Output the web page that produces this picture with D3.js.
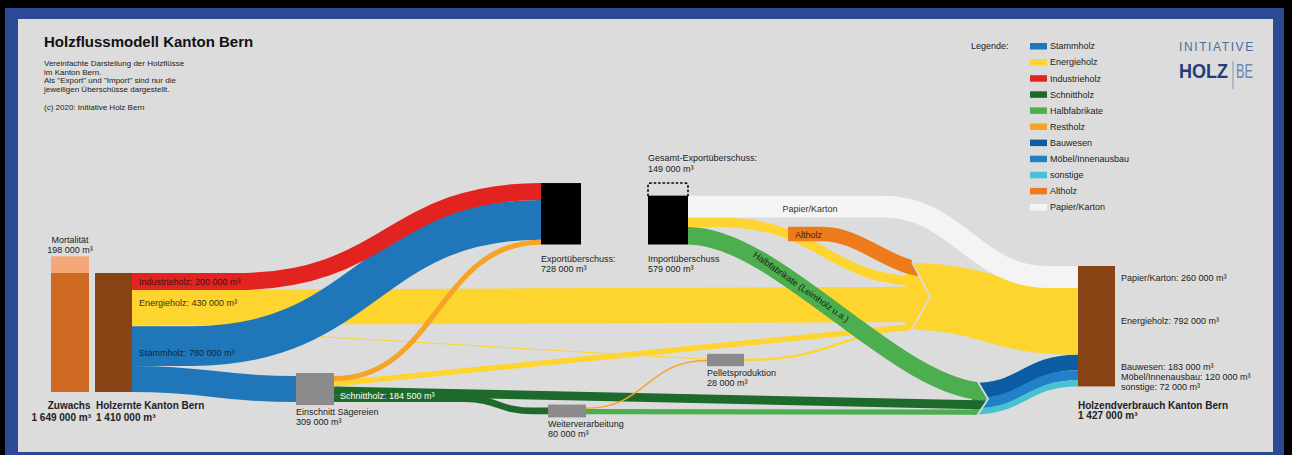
<!DOCTYPE html>
<html>
<head>
<meta charset="utf-8">
<script src="https://cdn.jsdelivr.net/npm/d3@7"></script>
<style>
	html, body { margin: 0; padding: 0; background: #000; }
	svg { display: block; font-family: "Liberation Sans", Arial, sans-serif; }
</style>
</head>
<body>
<div id="chart"></div>
<script>
// texts
var titleText = 'Holzflussmodell Kanton Bern';
var introLines = ['Vereinfachte Darstellung der Holzflüsse', 'im Kanton Bern.', 'Als "Export" und "Import" sind nur die', 'jeweiligen Überschüsse dargestellt.'];
var creditText = '(c) 2020: Initiative Holz Bern';

var legendLabels = ['Stammholz', 'Energieholz', 'Industrieholz', 'Schnittholz', 'Halbfabrikate', 'Restholz', 'Bauwesen', 'Möbel/Innenausbau', 'sonstige', 'Altholz', 'Papier/Karton'];
var legendKeys = ['stammholz', 'energieholz', 'industrieholz', 'schnittholz', 'halbfabrikate', 'restholz', 'bauwesen', 'moebel', 'sonstige', 'altholz', 'papier'];

// nodes (m3)
var nodeIds = ['zuwachs', 'holzernte', 'export', 'gesamtExport', 'import', 'saegerei', 'weiterverarbeitung', 'pellets', 'altholz', 'mixEnergie', 'mixBau', 'endverbrauch'];
var nodeNames = ['Zuwachs', 'Holzernte Kanton Bern', 'Exportüberschuss:', 'Gesamt-Exportüberschuss:', 'Importüberschuss', 'Einschnitt Sägereien', 'Weiterverarbeitung', 'Pelletsproduktion', 'Altholz', '', '', 'Holzendverbrauch Kanton Bern'];
var nodeValues = [1649000, 1410000, 728000, 149000, 579000, 309000, 80000, 28000, 170500, 792000, 375000, 1427000];

// Zuwachs column: genutzt / Mortalität
var zuwachsParts = [1410000, 198000];
var zuwachsPartNames = ['', 'Mortalität'];

// flows (m3)
var flowFrom = ['holzernte', 'holzernte', 'holzernte', 'holzernte', 'holzernte', 'saegerei', 'saegerei', 'saegerei', 'saegerei', 'weiterverarbeitung', 'weiterverarbeitung', 'pellets', 'import', 'import', 'import', 'altholz', 'mixEnergie', 'mixBau', 'mixBau', 'mixBau'];
var flowTo = ['export', 'mixEnergie', 'pellets', 'export', 'saegerei', 'export', 'mixEnergie', 'mixBau', 'weiterverarbeitung', 'pellets', 'mixBau', 'mixEnergie', 'endverbrauch', 'mixEnergie', 'mixBau', 'mixEnergie', 'endverbrauch', 'endverbrauch', 'endverbrauch', 'endverbrauch'];
var flowValue = [200000, 418000, 12000, 471000, 309000, 60000, 64500, 104500, 80000, 16000, 64000, 28000, 260000, 111000, 208500, 170500, 792000, 183000, 120000, 72000];
var flowKind = ['industrieholz', 'energieholz', 'energieholz', 'stammholz', 'stammholz', 'restholz', 'energieholz', 'schnittholz', 'schnittholz', 'restholz', 'halbfabrikate', 'energieholz', 'papier', 'energieholz', 'halbfabrikate', 'altholz', 'energieholz', 'bauwesen', 'moebel', 'sonstige'];

// labels at the end of the chain
var endNames = ['Papier/Karton', 'Energieholz', 'Bauwesen', 'Möbel/Innenausbau', 'sonstige'];
var endFlows = [12, 16, 17, 18, 19];

// labels written on the bands
var bandNames = ['Industrieholz', 'Energieholz', 'Stammholz', 'Schnittholz'];
var bandValues = [200000, 430000, 780000, 184500];

// styles
var colors = {
	stammholz: '#1f77b9',
	energieholz: '#fed42e',
	industrieholz: '#e3231f',
	schnittholz: '#1d6a2b',
	halbfabrikate: '#4cae4f',
	restholz: '#f6a327',
	bauwesen: '#0c5ca3',
	moebel: '#2180c8',
	sonstige: '#4ac0d3',
	altholz: '#ee7b1b',
	papier: '#f4f4f4'
};
var bg = '#dcdcdc';
var textColor = '#222';

// layout (px)
var layout = {
	zuwachs: { x: 51, w: 38, bottom: 392 },
	holzernte: { x: 95, w: 37, top: 273, fill: '#874314' },
	export: { x: 541, w: 40, bottom: 244.5, fill: '#000' },
	import: { x: 648, w: 40, bottom: 244.5, fill: '#000' },
	gesamtExport: { x: 648, w: 40 },
	saegerei: { x: 296, w: 38, top: 376, pad: 3, fill: '#8b8b8b' },
	weiterverarbeitung: { x: 548, w: 38, top: 407.6, pad: 3, fill: '#8b8b8b' },
	pellets: { x: 707, w: 37, top: 358.8, pad: 5, fill: '#8b8b8b' },
	altholz: { x: 788, w: 0, top: 226.8 },
	mixEnergie: { x: 912, w: 0, top: 263, tip: 18, inOrder: [15, 13, 1, 6, 11] },
	mixBau: { x: 978, w: 0, top: 383, tip: 10, inOrder: [14, 7, 10] },
	endverbrauch: { x: 1078, w: 37, top: 266, fill: '#874314' }
};

var routes = [
	{ hold0: 105 }, {}, { tension: 0 }, { hold0: 60 }, {},
	{}, { tension: 0 }, { tension: 0 }, { hold0: 130, hold1: 15 },
	{}, { tension: 0 }, {},
	{ hold0: 195, hold1: 30, tension: 0.45 }, { hold0: 30 }, { tension: 0.3 },
	{ hold0: 35, tension: 0.35 }, {}, {}, {}, {}
];

var drawOrder = [16, 17, 18, 19, 2, 1, 6, 11, 13, 15, 4, 3, 0, 7, 8, 10, 9, 5, 12, 14];

initFlowChart();

function initFlowChart() {
	var W = 1292, H = 455;
	var locale = d3.formatLocale({ decimal: '.', thousands: ' ', grouping: [3], currency: ['', ''] });
	var fmt = function(v) { return locale.format(',')(v) + ' m³'; };
	var widthScale = d3.scaleLinear().domain([0, 1410000]).range([0, 119]);

	var svg = d3.select('#chart')
		.append('svg')
		.attr('width', W)
		.attr('height', H);

	// frame
	svg.append('rect').attr('width', W).attr('height', H).attr('fill', '#000');
	svg.append('rect').attr('x', 5).attr('y', 8).attr('width', 1279).attr('height', H).attr('fill', '#2c4a94');
	svg.append('rect').attr('x', 18).attr('y', 19).attr('width', 1255).attr('height', 433).attr('fill', bg);

	// title block
	svg.append('text')
		.attr('x', 44).attr('y', 47)
		.style('font-size', '15px').style('font-weight', 'bold')
		.attr('fill', '#111')
		.text(titleText);

	svg.append('g').selectAll('text')
		.data(introLines)
		.enter()
		.append('text')
		.attr('x', 44)
		.attr('y', function(d, i) { return 66 + i * 8.5; })
		.style('font-size', '8px')
		.attr('fill', textColor)
		.text(function(d) { return d; });

	svg.append('text')
		.attr('x', 44).attr('y', 110)
		.style('font-size', '8px')
		.attr('fill', textColor)
		.text(creditText);

	// legend
	var legendY = d3.scalePoint().domain(legendLabels).range([46, 207]);
	var legend = svg.append('g').attr('class', 'legend');

	legend.append('text')
		.attr('x', 971).attr('y', 48.5)
		.style('font-size', '9px')
		.attr('fill', textColor)
		.text('Legende:');

	var row = legend.selectAll('.row')
		.data(legendLabels)
		.enter()
		.append('g')
		.attr('class', 'row')
		.attr('transform', function(d) { return 'translate(1030,' + legendY(d) + ')'; });

	row.append('rect')
		.attr('x', 0).attr('y', -3)
		.attr('width', 17).attr('height', 6.5)
		.attr('fill', function(d, i) { return colors[legendKeys[i]]; });

	row.append('text')
		.attr('x', 20).attr('y', 3.3)
		.style('font-size', '9px')
		.attr('fill', textColor)
		.text(function(d) { return d; });

	// logo
	var logo = svg.append('g').attr('class', 'logo');
	logo.append('text')
		.attr('x', 1179).attr('y', 51)
		.style('font-size', '12px').style('letter-spacing', '1.6px')
		.attr('fill', '#4d6c9e')
		.text('INITIATIVE');
	logo.append('text')
		.attr('x', 1179).attr('y', 77.5)
		.attr('textLength', 49).attr('lengthAdjust', 'spacingAndGlyphs')
		.style('font-size', '21px').style('font-weight', 'bold')
		.attr('fill', '#1e3d7b')
		.text('HOLZ');
	logo.append('line')
		.attr('x1', 1233).attr('x2', 1233).attr('y1', 61).attr('y2', 89)
		.attr('stroke', '#7f97bd').attr('stroke-width', 1);
	logo.append('text')
		.attr('x', 1236).attr('y', 77.5)
		.attr('textLength', 17).attr('lengthAdjust', 'spacingAndGlyphs')
		.style('font-size', '20px')
		.attr('fill', '#6b86b2')
		.text('BE');

	// nodes
	var nodes = {};
	nodeIds.forEach(function(id, i) {
		var l = layout[id];
		var n = { id: id, name: nodeNames[i], value: nodeValues[i], x: l.x, w: l.w || 0, inOff: 0, outOff: 0 };
		n.h = widthScale(n.value);
		n.top = l.top != null ? l.top : l.bottom - n.h;
		nodes[id] = n;
	});
	nodes.gesamtExport.top = nodes.import.top - nodes.gesamtExport.h;

	function outX(n) { return layout[n.id].tip ? n.x - 6 : n.x + n.w; }
	function inX(n) { return layout[n.id].tip ? n.x + layout[n.id].tip : n.x; }

	var flows = flowValue.map(function(v, i) {
		return { i: i, from: flowFrom[i], to: flowTo[i], value: v, kind: flowKind[i], w: widthScale(v) };
	});

	flows.forEach(function(f) {
		var s = nodes[f.from];
		f.x0 = outX(s);
		f.y0 = s.top + s.outOff + f.w / 2;
		s.outOff += f.w;
	});

	nodeIds.forEach(function(id) {
		var n = nodes[id];
		var list = layout[id].inOrder || flows.filter(function(f) { return f.to === id; }).map(function(f) { return f.i; });
		list.forEach(function(i) {
			var f = flows[i];
			f.x1 = inX(n);
			f.y1 = n.top + n.inOff + f.w / 2;
			n.inOff += f.w;
		});
	});

	function linkPath(f) {
		var r = routes[f.i] || {};
		var a = f.x0 + (r.hold0 || 0);
		var b = f.x1 - (r.hold1 || 0);
		var t = r.tension == null ? 0.5 : r.tension;
		var c = (b - a) * t;
		var p = d3.path();
		p.moveTo(f.x0, f.y0);
		p.lineTo(a, f.y0);
		p.bezierCurveTo(a + c, f.y0, b - c, f.y1, b, f.y1);
		p.lineTo(f.x1, f.y1);
		return p.toString();
	}

	// chevron clips
	var defs = svg.append('defs');
	function chevron(id) {
		var n = nodes[id], tip = layout[id].tip;
		var top = n.top, bottom = n.top + n.inOff, mid = (top + bottom) / 2;
		return { top: top, bottom: bottom, mid: mid, x: n.x, tipX: n.x + tip };
	}
	['mixEnergie', 'mixBau'].forEach(function(id) {
		var c = chevron(id);
		var pts = [[0, 0], [c.x, 0], [c.x, c.top], [c.tipX, c.mid], [c.x, c.bottom], [c.x, H], [0, H]];
		defs.append('clipPath').attr('id', 'clip-' + id)
			.append('polygon')
			.attr('points', pts.map(function(p) { return p.join(','); }).join(' '));
	});

	var flowLayer = svg.append('g').attr('class', 'flows');
	var paths = {};
	drawOrder.forEach(function(i) {
		var f = flows[i];
		var path = flowLayer.append('path')
			.attr('d', linkPath(f))
			.attr('fill', 'none')
			.attr('stroke', colors[f.kind])
			.attr('stroke-width', f.w);
		if (f.to === 'mixEnergie' || f.to === 'mixBau') {
			path.attr('clip-path', 'url(#clip-' + f.to + ')');
		}
		paths[i] = path;
	});

	// chevron seams
	['mixEnergie', 'mixBau'].forEach(function(id) {
		var c = chevron(id);
		svg.append('polyline')
			.attr('points', [[c.x, c.top - 1], [c.tipX, c.mid], [c.x - 1, c.bottom + 1]].map(function(p) { return p.join(','); }).join(' '))
			.attr('fill', 'none')
			.attr('stroke', bg)
			.attr('stroke-width', 1.8);
	});

	// boxes
	var boxIds = ['holzernte', 'export', 'import', 'saegerei', 'weiterverarbeitung', 'pellets', 'endverbrauch'];
	svg.append('g').selectAll('rect')
		.data(boxIds)
		.enter()
		.append('rect')
		.attr('x', function(d) { return nodes[d].x; })
		.attr('y', function(d) { return nodes[d].top - (layout[d].pad || 0); })
		.attr('width', function(d) { return nodes[d].w; })
		.attr('height', function(d) { return nodes[d].h + 2 * (layout[d].pad || 0); })
		.attr('fill', function(d) { return layout[d].fill; });

	// zuwachs column
	var zu = layout.zuwachs;
	var zuH = zuwachsParts.map(widthScale);
	svg.append('rect')
		.attr('x', zu.x).attr('y', zu.bottom - zuH[0])
		.attr('width', zu.w).attr('height', zuH[0])
		.attr('fill', '#cf6a22');
	svg.append('rect')
		.attr('x', zu.x).attr('y', zu.bottom - zuH[0] - zuH[1])
		.attr('width', zu.w).attr('height', zuH[1])
		.attr('fill', '#f4a878');

	// dotted gesamt-export outline
	var ge = nodes.gesamtExport, r = 3;
	var dp = d3.path();
	dp.moveTo(ge.x, ge.top + ge.h);
	dp.lineTo(ge.x, ge.top + r);
	dp.quadraticCurveTo(ge.x, ge.top, ge.x + r, ge.top);
	dp.lineTo(ge.x + ge.w - r, ge.top);
	dp.quadraticCurveTo(ge.x + ge.w, ge.top, ge.x + ge.w, ge.top + r);
	dp.lineTo(ge.x + ge.w, ge.top + ge.h);
	svg.append('path')
		.attr('d', dp.toString())
		.attr('fill', 'none')
		.attr('stroke', '#000')
		.attr('stroke-width', 1.6)
		.attr('stroke-dasharray', '1.4 3')
		.attr('stroke-linecap', 'round');

	// text helpers
	function label(x, y, txt, opts) {
		opts = opts || {};
		return svg.append('text')
			.attr('x', x).attr('y', y)
			.attr('text-anchor', opts.anchor || 'start')
			.style('font-size', (opts.size || 9) + 'px')
			.style('font-weight', opts.bold ? 'bold' : 'normal')
			.attr('fill', opts.fill || textColor)
			.text(txt);
	}

	var zuTop = zu.bottom - zuH[0] - zuH[1];
	label(zu.x + zu.w / 2, zuTop - 13.5, zuwachsPartNames[1], { anchor: 'middle' });
	label(zu.x + zu.w / 2, zuTop - 3, fmt(zuwachsParts[1]), { anchor: 'middle' });
	label(zu.x + zu.w + 1.5, zu.bottom + 17, nodes.zuwachs.name, { anchor: 'end', bold: true, size: 10 });
	label(zu.x + zu.w + 2, zu.bottom + 29, fmt(nodes.zuwachs.value), { anchor: 'end', bold: true, size: 10 });

	var he = nodes.holzernte;
	label(he.x + 1, he.top + he.h + 17, he.name, { bold: true, size: 10 });
	label(he.x + 1, he.top + he.h + 29, fmt(he.value), { bold: true, size: 10 });

	[nodes.export, nodes.import].forEach(function(n) {
		label(n.x, n.top + n.h + 17.5, n.name);
		label(n.x, n.top + n.h + 27, fmt(n.value));
	});
	label(ge.x, ge.top - 22, ge.name);
	label(ge.x, ge.top - 11.5, fmt(ge.value));

	['saegerei', 'weiterverarbeitung', 'pellets'].forEach(function(id) {
		var n = nodes[id], bottom = n.top + n.h + layout[id].pad;
		label(n.x, bottom + 9.5, n.name);
		label(n.x, bottom + 19.5, fmt(n.value));
	});

	var ev = nodes.endverbrauch;
	label(ev.x, ev.top + ev.h + 23, ev.name, { bold: true, size: 10 });
	label(ev.x, ev.top + ev.h + 33, fmt(ev.value), { bold: true, size: 10 });

	var endY = [281, 324, 370, 380, 390];
	endNames.forEach(function(name, i) {
		label(ev.x + ev.w + 6, endY[i], name + ': ' + fmt(flows[endFlows[i]].value));
	});

	// band labels
	var bandPos = [[139, 284.5, '#3a1512'], [139, 306, '#3a3210'], [139, 356, '#10263a'], [340, 398.5, '#fff']];
	bandNames.forEach(function(name, i) {
		label(bandPos[i][0], bandPos[i][1], name + ': ' + fmt(bandValues[i]), { fill: bandPos[i][2] });
	});
	label(810, 212, 'Papier/Karton', { anchor: 'middle', fill: '#333' });
	label(nodes.altholz.x + 7, nodes.altholz.top + 11.5, nodes.altholz.name, { fill: '#3b2410' });

	// rotated label along the Halbfabrikate import band
	var hp = paths[14].node();
	var len = hp.getTotalLength(), best = 0, bd = 1e9;
	for (var s = 0; s <= len; s += 1) {
		var p = hp.getPointAtLength(s);
		if (Math.abs(p.x - 801) < bd) { bd = Math.abs(p.x - 801); best = s; }
	}
	var pa = hp.getPointAtLength(best - 6), pb = hp.getPointAtLength(best + 6), pc = hp.getPointAtLength(best);
	var ang = Math.atan2(pb.y - pa.y, pb.x - pa.x) * 180 / Math.PI;
	svg.append('text')
		.attr('transform', 'translate(' + pc.x + ',' + pc.y + ') rotate(' + ang + ')')
		.attr('text-anchor', 'middle')
		.attr('dy', '0.35em')
		.style('font-size', '9px')
		.attr('fill', '#1a1a1a')
		.text('Halbfabrikate (Leimholz u.a.)');
}
</script>
</body>
</html>
